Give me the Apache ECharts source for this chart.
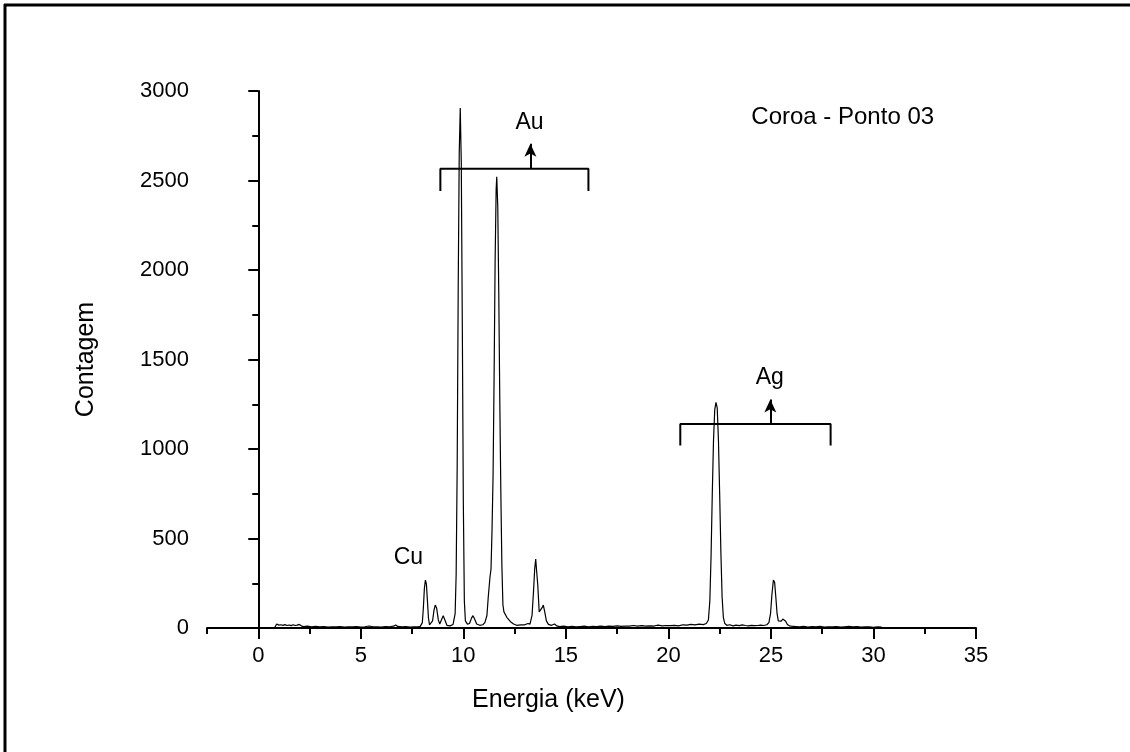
<!DOCTYPE html>
<html>
<head>
<meta charset="utf-8">
<script src="https://cdn.jsdelivr.net/npm/echarts@6/dist/echarts.min.js"></script>
<style>
html,body{margin:0;padding:0;background:#fff;}
#chart{width:1130px;height:752px;}
</style>
</head>
<body>
<div id="chart"></div>
<script>
// ---- data ----
const energy = [0.00,0.20,0.40,0.60,0.80,0.90,1.00,1.10,1.20,1.30,1.40,1.50,1.60,1.70,1.80,1.90,2.00,2.10,2.20,2.40,2.60,2.80,3.00,3.20,3.40,3.60,3.80,4.00,4.20,4.40,4.60,4.80,5.00,5.20,5.40,5.60,5.80,6.00,6.20,6.40,6.60,6.70,6.80,7.00,7.20,7.40,7.60,7.80,7.90,
8.00,8.05,8.10,8.15,8.20,8.25,8.30,8.35,8.40,8.50,8.57,8.63,8.70,8.78,8.85,8.95,9.02,9.10,9.20,9.35,9.50,9.60,9.65,9.70,9.75,9.80,9.85,9.90,9.95,10.00,10.05,10.10,10.20,10.30,10.40,10.47,10.55,10.65,10.80,10.95,
11.05,11.15,11.22,11.30,11.35,11.40,11.45,11.50,11.55,11.60,11.63,11.68,11.73,11.78,11.83,11.88,11.93,11.98,12.05,12.12,12.20,12.30,12.45,12.60,12.80,13.00,13.15,13.25,13.35,13.42,13.48,13.53,13.58,13.63,13.70,13.78,13.85,13.90,13.97,14.05,14.15,14.30,14.45,14.55,14.70,14.90,
15.10,15.30,15.50,15.70,15.90,16.10,16.30,16.50,16.70,16.90,17.10,17.30,17.50,17.70,17.90,18.10,18.30,18.50,18.70,18.90,19.10,19.30,19.50,19.70,19.90,20.10,20.30,20.50,20.70,20.90,21.10,21.30,21.50,21.70,21.85,21.95,
22.02,22.08,22.14,22.20,22.26,22.32,22.38,22.44,22.50,22.56,22.62,22.68,22.75,22.85,23.00,23.15,23.30,23.45,23.60,23.75,23.90,24.05,24.20,24.35,24.50,24.65,24.80,24.90,24.98,25.05,25.12,25.18,25.24,25.30,25.36,25.42,25.50,25.58,25.65,25.72,25.80,25.90,26.00,
26.20,26.40,26.60,26.80,27.00,27.20,27.40,27.60,27.80,28.00,28.20,28.40,28.60,28.80,29.00,29.20,29.40,29.60,29.80,30.00,30.20,30.40];
const counts = [1,1,1,1,2,22,16,18,15,19,14,17,13,18,14,16,20,12,8,10,7,9,6,8,5,7,6,8,5,7,6,8,5,7,11,6,7,5,8,7,10,17,9,6,8,5,7,6,9,
30,110,220,268,245,150,55,18,12,40,100,128,110,45,22,50,68,45,15,12,20,80,300,900,1900,2650,2905,2600,1700,700,150,40,22,25,55,69,50,22,15,18,
30,70,180,285,330,550,850,1400,2050,2450,2521,2350,1850,1250,750,350,130,90,86,60,50,35,22,15,17,18,25,22,70,200,330,385,310,240,90,80,115,128,90,40,20,15,22,12,8,10,
7,9,6,8,10,7,9,8,11,8,10,9,12,9,11,10,14,11,13,10,12,11,16,12,14,13,15,12,18,16,20,17,22,19,25,45,
150,400,750,1050,1220,1261,1230,1050,750,420,170,60,25,15,18,12,16,13,17,14,12,15,13,14,16,14,18,30,80,190,268,255,170,80,40,30,38,50,54,38,20,12,10,
8,6,9,5,8,6,9,5,7,6,8,5,7,9,6,8,5,7,6,4,6,5];

const xMajorTicks = [0,5,10,15,20,25,30,35];
const xMinorTicks = [-2.5,2.5,7.5,12.5,17.5,22.5,27.5,32.5];

// element bracket annotations [x, y]
const auBracket = [[8.88,2442],[8.88,2565],[16.1,2565],[16.1,2442]];
const auArrow = [[13.27,2565],[13.27,2706]];
const agBracket = [[20.58,1019],[20.58,1140],[27.91,1140],[27.91,1019]];
const agArrow = [[24.97,1140],[24.97,1276]];

// text labels [x, y, text]
const labels = [[7.32,391,'Cu'],[13.23,2822,'Au'],[24.94,1397,'Ag']];
const titleLabel = [[28.5,2855,'Coroa - Ponto 03']];

const spectrum = energy.map((e,i)=>[e,counts[i]]);

const chart = echarts.init(document.getElementById('chart'), null, {renderer:'canvas'});
const font = 'Liberation Sans, Arial, sans-serif';
const arrowLine = (pts) => ({
  type:'line', data:[], silent:true,
  markLine:{silent:true, symbol:['none','arrow'], symbolSize:[9,13],
    label:{show:false}, lineStyle:{color:'#000',width:2,type:'solid'},
    emphasis:{disabled:true},
    data:[[{coord:pts[0]},{coord:pts[1]}]]}
});
const bracket = (pts) => ({
  type:'line', data:pts, symbol:'none', silent:true,
  lineStyle:{color:'#000',width:2}
});
const textSeries = (d, size) => ({
  type:'scatter', data:d, symbolSize:0, silent:true,
  itemStyle:{opacity:1},
  label:{show:true, position:[0,0], align:'center', verticalAlign:'middle',
    formatter:p=>p.value[2], fontFamily:font, fontSize:size, color:'#000',
    opacity:1, textBorderWidth:0}
});
chart.setOption({
  animation:false,
  backgroundColor:'#fff',
  grid:{left:207,right:154,top:91,bottom:124,containLabel:false},
  graphic:[
    {type:'line',shape:{x1:4,y1:5,x2:1130,y2:5},style:{stroke:'#000',lineWidth:3}},
    {type:'line',shape:{x1:5,y1:4,x2:5,y2:752},style:{stroke:'#000',lineWidth:3}}
  ],
  xAxis:[{
    type:'value', min:-2.5, max:35, position:'bottom',
    name:'Energia (keV)', nameLocation:'middle', nameGap:60,
    nameTextStyle:{fontFamily:font,fontSize:25,color:'#000',padding:[0,86,0,0]},
    axisLine:{show:true,onZero:false,lineStyle:{color:'#000',width:2}},
    axisTick:{show:true,inside:false,length:11,customValues:xMajorTicks,lineStyle:{color:'#000',width:2}},
    axisLabel:{show:true,customValues:xMajorTicks,margin:17,fontFamily:font,fontSize:22,color:'#000'},
    splitLine:{show:false}
  },{
    type:'value', min:-2.5, max:35, position:'bottom', gridIndex:0, offset:0,
    axisLine:{show:false,onZero:false},
    axisTick:{show:true,inside:false,length:6,customValues:xMinorTicks,lineStyle:{color:'#000',width:2}},
    axisLabel:{show:false},
    splitLine:{show:false}
  }],
  yAxis:{
    type:'value', min:0, max:3000, interval:500,
    name:'Contagem', nameLocation:'middle', nameGap:108, nameRotate:90,
    nameTextStyle:{fontFamily:font,fontSize:25,color:'#000'},
    axisLine:{show:true,lineStyle:{color:'#000',width:2}},
    axisTick:{show:true,inside:false,length:10,lineStyle:{color:'#000',width:2}},
    minorTick:{show:true,splitNumber:2,length:6,lineStyle:{color:'#000',width:2}},
    axisLabel:{margin:18,fontFamily:font,fontSize:22,color:'#000',formatter:v=>String(v)},
    splitLine:{show:false}
  },
  series:[
    {type:'line', data:spectrum, symbol:'none', silent:true,
     lineStyle:{color:'#000',width:1.2}},
    bracket(auBracket), bracket(agBracket),
    arrowLine(auArrow), arrowLine(agArrow),
    textSeries(labels, 23),
    textSeries(titleLabel, 24)
  ]
});
</script>
</body>
</html>
